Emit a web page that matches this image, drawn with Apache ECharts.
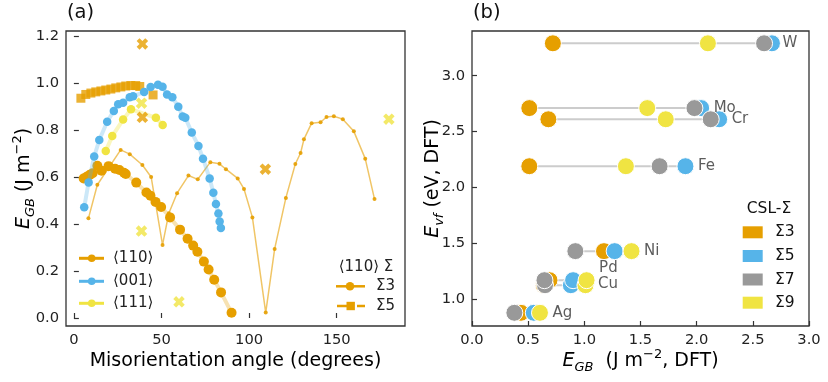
<!DOCTYPE html>
<html><head><meta charset="utf-8">
<script src="https://cdn.jsdelivr.net/npm/echarts@6/dist/echarts.min.js"></script>
<style>html,body{margin:0;padding:0;background:#fff}#c{width:828px;height:382px}</style>
</head><body><div id="c"></div><script>
// ---------- Panel (a) data ----------
const tiltAngle = [8.3, 13.4, 26.7, 31.9, 39.1, 44.1, 50.6, 54.2, 58.9, 65.4, 70.7, 77.9, 83.1, 86.8, 93.5, 97.1, 101.9, 109.5, 114.6, 121.0, 126.4, 129.4, 131.3, 135.7, 140.8, 144.2, 148.4, 153.5, 159.8, 166.3, 171.6];
const tiltEnergy = [0.424, 0.567, 0.715, 0.697, 0.651, 0.600, 0.311, 0.446, 0.531, 0.606, 0.590, 0.663, 0.656, 0.633, 0.594, 0.549, 0.428, 0.023, 0.294, 0.511, 0.655, 0.702, 0.760, 0.829, 0.833, 0.855, 0.858, 0.846, 0.794, 0.678, 0.506];
const s110Angle = [5.6, 7.3, 9.1, 10.7, 13.4, 15.8, 19.8, 23.5, 26.0, 28.6, 29.6, 35.6, 41.4, 43.7, 46.6, 49.8, 54.9, 60.6, 64.9, 68.1, 70.5, 74.2, 76.9, 80.1, 84.0, 90.0];
const s110Energy = [0.594, 0.601, 0.609, 0.616, 0.648, 0.627, 0.646, 0.635, 0.630, 0.618, 0.613, 0.576, 0.534, 0.520, 0.494, 0.472, 0.428, 0.376, 0.337, 0.308, 0.282, 0.240, 0.206, 0.163, 0.109, 0.022];
const s001Angle = [5.9, 8.4, 11.6, 14.5, 19.0, 22.8, 25.3, 28.1, 31.9, 33.8, 40.1, 43.8, 48.0, 50.6, 53.2, 56.2, 59.6, 62.1, 63.6, 67.3, 71.1, 73.7, 77.5, 79.6, 81.1, 82.5, 83.2, 83.9];
const s001Energy = [0.471, 0.577, 0.687, 0.757, 0.835, 0.881, 0.909, 0.916, 0.939, 0.943, 0.962, 0.983, 0.992, 0.984, 0.951, 0.939, 0.899, 0.857, 0.852, 0.789, 0.732, 0.678, 0.594, 0.533, 0.485, 0.445, 0.411, 0.383];
const s111Angle = [18.2, 21.9, 28.1, 32.6, 46.8, 50.7];
const s111Energy = [0.710, 0.774, 0.844, 0.888, 0.852, 0.821];
const sqAngle = [4.0, 6.8, 9.7, 12.5, 15.4, 18.2, 21.1, 23.9, 26.8, 29.6, 32.5, 35.3, 37.6, 45.2];
const sqEnergy = [0.935, 0.951, 0.957, 0.962, 0.966, 0.970, 0.974, 0.979, 0.983, 0.987, 0.989, 0.989, 0.985, 0.949];
const crossOrangeAngle = [39.1, 39.1, 109.3];
const crossOrangeEnergy = [1.166, 0.854, 0.633];
const crossYellowAngle = [38.6, 38.6, 60.0, 179.8];
const crossYellowEnergy = [0.914, 0.370, 0.069, 0.846];
const aTicksX = [0, 50, 100, 150];
const aTicksY = [0.0, 0.2, 0.4, 0.6, 0.8, 1.0, 1.2];
const aLegendLabels = ['⟨110⟩', '⟨001⟩', '⟨111⟩'];
const aSigmaLabels = ['Σ3', 'Σ5'];

// ---------- Panel (b) data ----------
const elements = ['W', 'Mo', 'Cr', 'Fe', 'Ni', 'Cu', 'Pd', 'Ag'];
const vacancyEnergy = [3.29, 2.71, 2.61, 2.19, 1.43, 1.125, 1.17, 0.878];
const gbSigma3 = [0.72, 0.51, 0.68, 0.51, 1.175, 0.64, 0.69, 0.436];
const gbSigma5 = [2.67, 2.04, 2.20, 1.90, 1.27, 0.88, 0.90, 0.55];
const gbSigma7 = [2.60, 1.98, 2.125, 1.67, 0.92, 0.65, 0.645, 0.377];
const gbSigma9 = [2.10, 1.56, 1.725, 1.37, 1.42, 1.01, 1.02, 0.605];
const sigmaNames = ['Σ3', 'Σ5', 'Σ7', 'Σ9'];
const bTicksY = [1.0, 1.5, 2.0, 2.5, 3.0];

// ---------- styles ----------
const C_OR = '#E69F00', C_BL = '#56B4E9', C_GR = '#999999', C_YE = '#F0E442';
const FONT = 'DejaVu Sans';
const TICK_FS = 14.7;
const labelOffsets = { W: [-2, 0], Pd: [0, -12], Cu: [0, -1] };
const crossPath = 'path://M2.5,0 L5,2.5 L7.5,0 L10,2.5 L7.5,5 L10,7.5 L7.5,10 L5,7.5 L2.5,10 L0,7.5 L2.5,5 L0,2.5 Z';

const zip = (xs, ys) => xs.map((x, i) => [x, ys[i]]);

function axisCommon(extra) {
  return Object.assign({
    type: 'value',
    axisLine: { show: false },
    splitLine: { show: false },
    axisTick: { show: true, inside: true, length: 5, lineStyle: { color: '#333', width: 1.2 } },
    axisLabel: { color: '#222', fontFamily: FONT, fontSize: TICK_FS, margin: 7 }
  }, extra);
}

const chart = echarts.init(document.getElementById('c'), null, { renderer: 'canvas' });

const series = [];
// Panel (a)
series.push({
  type: 'line', xAxisIndex: 0, yAxisIndex: 0, data: zip(tiltAngle, tiltEnergy),
  symbol: 'circle', symbolSize: 4, showAllSymbol: true,
  lineStyle: { color: 'rgba(230,159,0,0.6)', width: 1.5 },
  itemStyle: { color: 'rgba(230,159,0,0.9)' }, z: 2
});
series.push({
  type: 'line', xAxisIndex: 0, yAxisIndex: 0, data: zip(s110Angle, s110Energy),
  symbol: 'circle', symbolSize: 10, showAllSymbol: true,
  lineStyle: { color: 'rgba(230,159,0,0.3)', width: 4 },
  itemStyle: { color: C_OR }, z: 3
});
series.push({
  type: 'scatter', xAxisIndex: 0, yAxisIndex: 0, data: zip(sqAngle, sqEnergy),
  symbol: 'rect', symbolSize: 9, itemStyle: { color: C_OR }, z: 3
});
series.push({
  type: 'line', xAxisIndex: 0, yAxisIndex: 0, data: zip(s001Angle, s001Energy),
  symbol: 'circle', symbolSize: 8.5, showAllSymbol: true,
  lineStyle: { color: 'rgba(86,180,233,0.3)', width: 4 },
  itemStyle: { color: C_BL }, z: 4
});
series.push({
  type: 'line', xAxisIndex: 0, yAxisIndex: 0, data: zip(s111Angle, s111Energy),
  symbol: 'circle', symbolSize: 8.5, showAllSymbol: true,
  lineStyle: { color: 'rgba(240,228,66,0.35)', width: 4 },
  itemStyle: { color: C_YE }, z: 4
});
series.push({
  type: 'scatter', xAxisIndex: 0, yAxisIndex: 0, data: zip(crossOrangeAngle, crossOrangeEnergy),
  symbol: crossPath, symbolSize: 11.5, itemStyle: { color: C_OR }, z: 5
});
series.push({
  type: 'scatter', xAxisIndex: 0, yAxisIndex: 0, data: zip(crossYellowAngle, crossYellowEnergy),
  symbol: crossPath, symbolSize: 11.5, itemStyle: { color: C_YE }, z: 5
});

// Panel (b)
const allSig = [gbSigma3, gbSigma5, gbSigma7, gbSigma9];
const rangeData = elements.map((e, i) => {
  const vals = allSig.map(a => a[i]);
  return [Math.min.apply(null, vals), Math.max.apply(null, vals), vacancyEnergy[i]];
});
series.push({
  type: 'custom', xAxisIndex: 1, yAxisIndex: 1, data: rangeData, z: 1,
  encode: { x: [0, 1], y: 2 },
  renderItem: function (params, api) {
    const p1 = api.coord([api.value(0), api.value(2)]);
    const p2 = api.coord([api.value(1), api.value(2)]);
    return { type: 'line', shape: { x1: p1[0], y1: p1[1], x2: p2[0], y2: p2[1] },
      style: { stroke: '#cccccc', lineWidth: 2 } };
  }
});
const sigColors = [C_OR, C_BL, C_GR, C_YE];
allSig.forEach((arr, k) => {
  series.push({
    type: 'scatter', xAxisIndex: 1, yAxisIndex: 1, name: sigmaNames[k],
    data: zip(arr, vacancyEnergy), symbol: 'circle', symbolSize: 17,
    itemStyle: { color: sigColors[k], borderColor: '#fff', borderWidth: 1, opacity: 1 }, z: 2 + k
  });
});
series.push({
  type: 'scatter', xAxisIndex: 1, yAxisIndex: 1, symbolSize: 1, z: 10, silent: true,
  data: elements.map((e, i) => ({
    value: [rangeData[i][1], vacancyEnergy[i]], name: e,
    label: { offset: labelOffsets[e] || [0, 0] }
  })),
  label: { show: true, position: 'right', distance: 12, formatter: p => p.name,
    fontFamily: FONT, fontSize: 15, color: '#333' },
  itemStyle: { color: 'rgba(0,0,0,0)' }
});

// graphics: panel labels, axis titles, legends
const titleRich = {
  e: { fontFamily: FONT, fontStyle: 'italic', fontSize: 19, lineHeight: 26, color: '#111' },
  n: { fontFamily: FONT, fontSize: 19, lineHeight: 26, color: '#111' },
  sub: { fontFamily: FONT, fontStyle: 'italic', fontSize: 13, lineHeight: 13, verticalAlign: 'bottom', color: '#111' },
  sup: { fontFamily: FONT, fontSize: 13, lineHeight: 13, verticalAlign: 'top', color: '#111' }
};
const graphics = [];
function txt(x, y, text, opts) {
  graphics.push(Object.assign({ type: 'text', x: x, y: y,
    style: Object.assign({ text: text, fontFamily: FONT, fontSize: 15, fill: '#222',
      align: 'left', verticalAlign: 'middle' }, opts || {}) }));
}
txt(67, 13, '(a)', { fontSize: 19.5, fill: '#111' });
txt(473, 13, '(b)', { fontSize: 19.5, fill: '#111' });
graphics.push({ type: 'text', x: 235.5, y: 361, style: { text: '{n|Misorientation angle (degrees)}', rich: titleRich, align: 'center', verticalAlign: 'middle' } });
graphics.push({ type: 'text', x: 24, y: 178.5, rotation: Math.PI / 2,
  style: { text: '{e|E}{sub|GB}{n| (J m}{sup|−2}{n|)}', rich: titleRich, align: 'center', verticalAlign: 'middle' } });
graphics.push({ type: 'text', x: 640.5, y: 361,
  style: { text: '{e|E}{sub|GB}{n|  (J m}{sup|−2}{n|, DFT)}', rich: titleRich, align: 'center', verticalAlign: 'middle' } });
graphics.push({ type: 'text', x: 433, y: 178.5, rotation: Math.PI / 2,
  style: { text: '{e|E}{sub|vf}{n| (eV, DFT)}', rich: titleRich, align: 'center', verticalAlign: 'middle' } });

// legend (a) left
const legCols = [C_OR, C_BL, C_YE];
const legY = [258.3, 281.3, 303.3];
aLegendLabels.forEach((lab, i) => {
  graphics.push({ type: 'line', shape: { x1: 79, y1: legY[i], x2: 104, y2: legY[i] }, style: { stroke: legCols[i], lineWidth: 3 } });
  graphics.push({ type: 'circle', shape: { cx: 91.7, cy: legY[i], r: 3.8 }, style: { fill: legCols[i] } });
  txt(113, legY[i], lab);
});
// legend (a) right
txt(366, 266.7, '⟨110⟩ Σ', { align: 'center' });
graphics.push({ type: 'line', shape: { x1: 336, y1: 286.3, x2: 365, y2: 286.3 }, style: { stroke: C_OR, lineWidth: 2.5 } });
graphics.push({ type: 'circle', shape: { cx: 350, cy: 286.3, r: 4.3 }, style: { fill: C_OR } });
txt(376, 286.3, aSigmaLabels[0]);
graphics.push({ type: 'line', shape: { x1: 337, y1: 306, x2: 365, y2: 306 }, style: { stroke: C_OR, lineWidth: 2.5, lineDash: [10, 4, 2, 4] } });
graphics.push({ type: 'rect', shape: { x: 346.5, y: 301.8, width: 8.4, height: 8.4 }, style: { fill: C_OR } });
txt(376, 306, aSigmaLabels[1]);

// legend (b)
txt(769, 209.3, 'CSL-Σ', { align: 'center', fontSize: 15.5, fill: '#111' });
const bLegY = [232.3, 256, 279.5, 302.7];
sigmaNames.forEach((s, k) => {
  graphics.push({ type: 'rect', shape: { x: 742.7, y: bLegY[k] - 6, width: 20, height: 12 }, style: { fill: sigColors[k] } });
  txt(775, bLegY[k], s, { fontSize: 15.5, fill: '#111' });
});

chart.setOption({
  animation: false,
  backgroundColor: '#fff',
  grid: [
    { left: 66, top: 31, width: 339, height: 295, show: true, borderColor: '#333', borderWidth: 1.3, backgroundColor: 'transparent' },
    { left: 472, top: 31, width: 337, height: 295, show: true, borderColor: '#333', borderWidth: 1.3, backgroundColor: 'transparent' }
  ],
  xAxis: [
    axisCommon({ gridIndex: 0, min: -4.5, max: 189,
      axisTick: { show: true, inside: true, length: 5, customValues: aTicksX, lineStyle: { color: '#333', width: 1.2 } },
      axisLabel: { color: '#222', fontFamily: FONT, fontSize: TICK_FS, margin: 7, customValues: aTicksX, formatter: v => String(Math.round(v)) } }),
    axisCommon({ gridIndex: 1, min: 0, max: 3, interval: 0.5,
      axisLabel: { color: '#222', fontFamily: FONT, fontSize: TICK_FS, margin: 7, formatter: v => v.toFixed(1) } })
  ],
  yAxis: [
    axisCommon({ gridIndex: 0, min: -0.034, max: 1.221,
      axisTick: { show: true, inside: true, length: 5, customValues: aTicksY, lineStyle: { color: '#333', width: 1.2 } },
      axisLabel: { color: '#222', fontFamily: FONT, fontSize: TICK_FS, margin: 7, customValues: aTicksY, formatter: v => v.toFixed(1) } }),
    axisCommon({ gridIndex: 1, min: 0.76, max: 3.40,
      axisTick: { show: true, inside: true, length: 5, customValues: bTicksY, lineStyle: { color: '#333', width: 1.2 } },
      axisLabel: { color: '#222', fontFamily: FONT, fontSize: TICK_FS, margin: 7, customValues: bTicksY, formatter: v => v.toFixed(1) } })
  ],
  series: series,
  graphic: graphics
});
</script></body></html>
